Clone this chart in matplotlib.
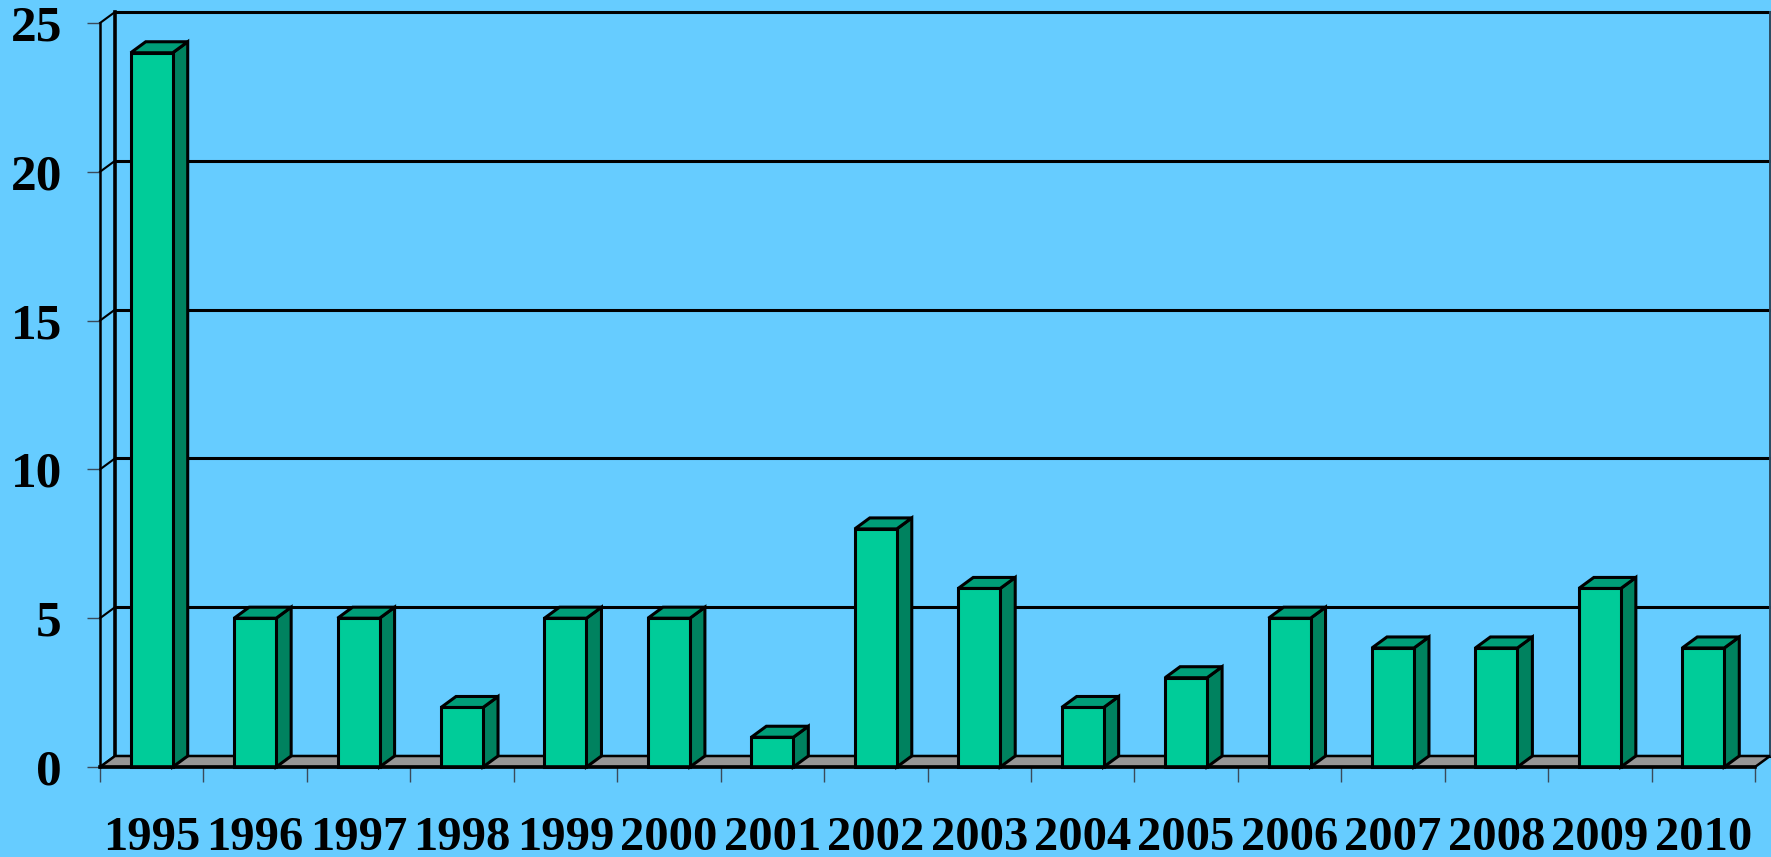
import numpy as np
import matplotlib
matplotlib.use("Agg")
import matplotlib.pyplot as plt
from matplotlib.patches import Polygon

# datos
years = ['1995', '1996', '1997', '1998', '1999', '2000', '2001', '2002',
         '2003', '2004', '2005', '2006', '2007', '2008', '2009', '2010']
counts = [24, 5, 5, 2, 5, 5, 1, 8, 6, 2, 3, 5, 4, 4, 6, 4]
y_ticks = [0, 5, 10, 15, 20, 25]

# colores
bg = '#66CCFF'
c_front = '#00CC99'
c_top = '#009E78'
c_side = '#00825F'
c_floor = '#969696'

# profundidad 3D en unidades de datos
dx = 15 / 103.44
dy = 11 / 29.76
w = 0.406

fig = plt.figure(figsize=(17.71, 8.57), dpi=100, facecolor=bg)
ax = fig.add_axes([100/1771, 90/857, 1655/1771, 744/857])
ax.set_facecolor('none')
n = len(years)
x = np.arange(n)
ax.set_xlim(-0.5, n - 0.5)
ax.set_ylim(0, 25)

lw = 2.2
# pared del fondo: lineas de cuadricula
for v in y_ticks:
    ax.plot([-0.5 + dx, n - 0.5 + dx], [v + dy, v + dy], color='black', lw=lw,
            clip_on=False, zorder=1)
    ax.plot([-0.5, -0.5 + dx], [v, v + dy], color='black', lw=1.5,
            clip_on=False, zorder=1)
ax.plot([-0.5 + dx, -0.5 + dx], [dy, 25 + dy], color='black', lw=2.6,
        clip_on=False, zorder=1)
ax.plot([n - 0.5 + dx, n - 0.5 + dx], [dy, 25 + dy], color='#2a4a60', lw=1.4,
        clip_on=False, zorder=1)

# suelo
floor = Polygon([(-0.5, 0), (n - 0.5, 0), (n - 0.5 + dx, dy), (-0.5 + dx, dy)],
                closed=True, facecolor=c_floor, edgecolor='black', lw=1.8,
                clip_on=False, zorder=2)
ax.add_patch(floor)

# barras
ax.bar(x, counts, width=w, color=c_front, edgecolor='black', linewidth=lw,
       zorder=4, clip_on=False)
for xi, v in zip(x, counts):
    r = xi + w / 2
    l = xi - w / 2
    side = Polygon([(r, 0), (r + dx, dy), (r + dx, v + dy), (r, v)], closed=True,
                   facecolor=c_side, edgecolor='black', lw=lw, clip_on=False, zorder=3)
    top = Polygon([(l, v), (r, v), (r + dx, v + dy), (l + dx, v + dy)], closed=True,
                  facecolor=c_top, edgecolor='black', lw=lw, clip_on=False, zorder=3)
    ax.add_patch(side)
    ax.add_patch(top)

# ejes
for s in ['top', 'right']:
    ax.spines[s].set_visible(False)
ax.spines['left'].set_linewidth(1.8)
ax.spines['bottom'].set_linewidth(2.6)
ax.spines['bottom'].set_zorder(5)

font = dict(family='Liberation Serif', weight='bold', size=37)
ax.set_yticks(y_ticks)
ax.set_yticklabels([str(v) for v in y_ticks], fontdict=font)
ax.tick_params(axis='y', direction='out', length=9.4, width=1, color='#3a4a5a', pad=18)

ax.set_xticks(np.arange(n + 1) - 0.5)
ax.set_xticklabels([])
ax.tick_params(axis='x', which='major', direction='out', length=11, width=1, color='#3a4a5a')
ax.set_xticks(x, minor=True)
ax.set_xticklabels(years, minor=True, fontdict=dict(family='Liberation Serif', weight='bold', size=35))
ax.tick_params(axis='x', which='minor', length=0, pad=35)

fig.savefig('out.png', dpi=100, facecolor=bg)
